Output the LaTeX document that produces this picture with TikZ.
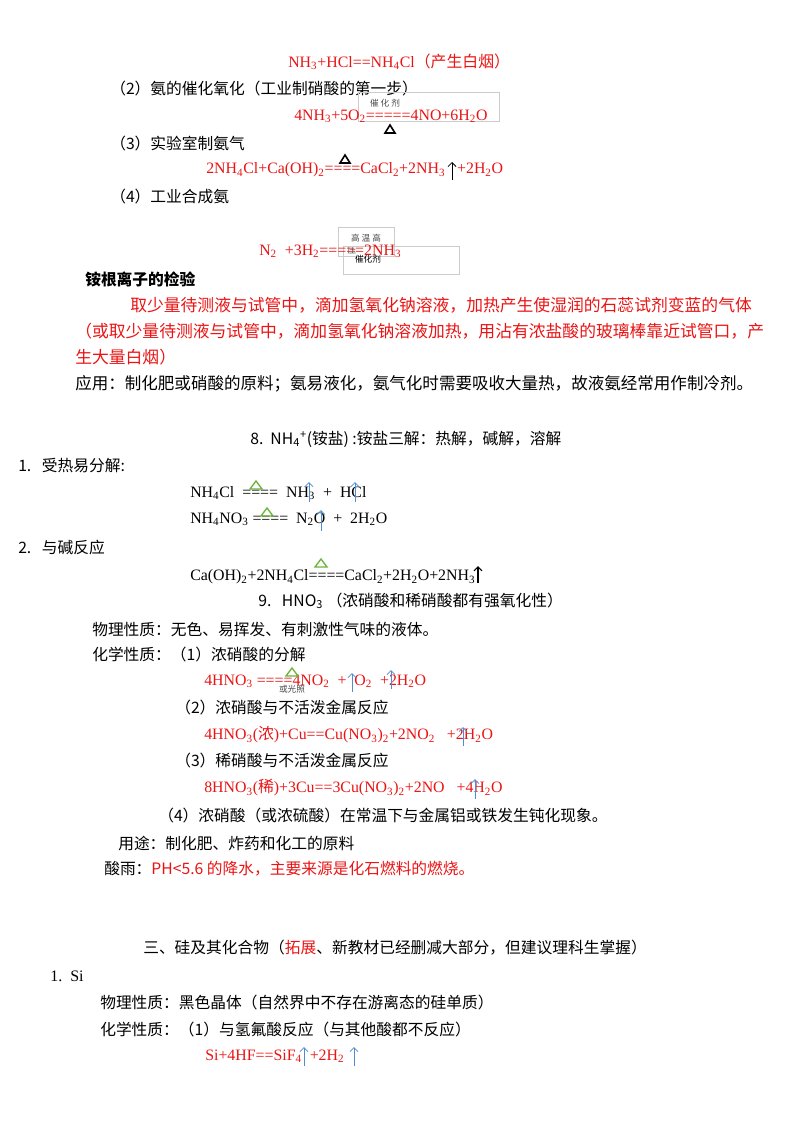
\documentclass[tikz,border=0pt]{standalone}
\usepackage{fontspec}
\usetikzlibrary{arrows.meta}
\setmainfont{Liberation Serif}
\newfontfamily\cjk{Noto Sans CJK SC}
\newcommand{\sbt}[1]{\textsubscript{#1}}
\newcommand{\spt}[1]{\textsuperscript{#1}}
\definecolor{rd}{RGB}{235,20,20}
\definecolor{ar}{RGB}{80,140,210}
\definecolor{gr}{RGB}{110,180,60}
\begin{document}
\begin{tikzpicture}[x=0.75pt,y=-0.75pt,
 t/.style={anchor=west,inner sep=0,font=\cjk\fontsize{11.8}{14}\selectfont},
 tr/.style={t,text=rd,font=\cjk\fontsize{12.6}{14}\selectfont},
 f/.style={anchor=west,inner sep=0,font=\fontsize{11.9}{14}\selectfont},
 fr/.style={f,text=rd},
 sm/.style={inner sep=0,font=\cjk\fontsize{6.5}{8}\selectfont,text=black!70},
 bx/.style={draw=black!20,line width=0.4pt},
 up/.style={draw=ar,line width=0.6pt,-{Straight Barb[length=3pt]}},
 tri/.style={draw=black,line width=1.2pt},
 gtri/.style={draw=gr,line width=1pt}]
\useasboundingbox[fill=white] (0,0) rectangle (800,1132);
\node[fr] (l1) at (288,62) {NH\sbt{3}+HCl==NH\sbt{4}Cl{\cjk（产生白烟）}};
\node[t] (l2) at (110,89) {（2）氨的催化氧化（工业制硝酸的第一步）};
\draw[bx] (358,92) rectangle (499,121);
\node[sm] (c1) at (385,103) {催 化 剂};
\node[fr] (l3) at (294,116) {4NH\sbt{3}+5O\sbt{2}=====4NO+6H\sbt{2}O};
\draw[tri] (385,133) -- (390,125) -- (395,133) -- cycle;
\node[t] (l4) at (110,144) {（3）实验室制氨气};
\draw[tri] (340,163) -- (345,155) -- (350,163) -- cycle;
\node[fr] (l5) at (206,170) {2NH\sbt{4}Cl+Ca(OH)\sbt{2}====CaCl\sbt{2}+2NH\sbt{3}\ \ \ +2H\sbt{2}O};
\draw[black,line width=0.6pt,-{Straight Barb[length=3pt]}] (452,180) -- (452,162);
\node[t] (l6) at (110,197) {（4）工业合成氨};
\draw[bx] (338,227) rectangle (394,256);
\node[sm] (c2) at (366,238) {高 温 高};
\node[sm] (c3) at (352,250) {压};
\draw[bx] (343,246) rectangle (459,274);
\node[fr] (l7) at (259,251) {N\sbt{2} \ +3H\sbt{2}=====2NH\sbt{3}};
\node[sm,text=black] (c4) at (368,259) {催化剂};
\node[t,font=\cjk\bfseries\fontsize{11.8}{14}\selectfont] (l8) at (85,279) {铵根离子的检验};
\node[tr] (l9) at (130,305) {取少量待测液与试管中，滴加氢氧化钠溶液，加热产生使湿润的石蕊试剂变蓝的气体};
\node[tr] (l10) at (75,331) {（或取少量待测液与试管中，滴加氢氧化钠溶液加热，用沾有浓盐酸的玻璃棒靠近试管口，产};
\node[tr] (l11) at (75,357) {生大量白烟）};
\node[t,font=\cjk\fontsize{12.4}{14}\selectfont] (l12) at (75,384) {应用：制化肥或硝酸的原料；氨易液化，氨气化时需要吸收大量热，故液氨经常用作制冷剂。};
\node[t] (l13) at (250,439) {8.\ \ NH\sbt{4}\spt{+}(铵盐) :铵盐三解：热解，碱解，溶解};
\node[t] (l14) at (18,466) {1.\ \ \ 受热易分解:};
\node[f] (l15) at (190,493) {NH\sbt{4}Cl \ ==== \ NH\sbt{3} \ + \ HCl};
\draw[gtri] (250,489) -- (256,481) -- (262,489) -- cycle;
\draw[up] (309,502) -- (309,482);
\draw[up] (355,502) -- (355,482);
\node[f] (l16) at (190,519) {NH\sbt{4}NO\sbt{3} ==== \ N\sbt{2}O \ + \ 2H\sbt{2}O};
\draw[gtri] (261,516) -- (267,508) -- (273,516) -- cycle;
\draw[up] (321,531) -- (321,510);
\node[t] (l17) at (18,548) {2.\ \ \ 与碱反应};
\node[f] (l18) at (190,577) {Ca(OH)\sbt{2}+2NH\sbt{4}Cl====CaCl\sbt{2}+2H\sbt{2}O+2NH\sbt{3}};
\draw[gtri] (315,567) -- (321,559) -- (327,567) -- cycle;
\draw[black,line width=0.8pt,-{Straight Barb[length=3pt]}] (478,583) -- (478,566);
\node[t] (l19) at (258,601) {9.\ \ \ HNO\sbt{3} （浓硝酸和稀硝酸都有强氧化性）};
\node[t] (l20) at (92,630) {物理性质：无色、易挥发、有刺激性气味的液体。};
\node[t] (l21) at (92,655) {化学性质：（1）浓硝酸的分解};
\node[fr] (l22) at (204,681) {4HNO\sbt{3} ====4NO\sbt{2} \ + \ O\sbt{2} \ +2H\sbt{2}O};
\draw[gtri] (286,676) -- (292,668) -- (298,676) -- cycle;
\node[sm] (c5) at (292,689) {或光照};
\draw[up] (352,692) -- (352,673);
\draw[up] (391,689) -- (391,670);
\node[t] (l23) at (175,708) {（2）浓硝酸与不活泼金属反应};
\node[fr] (l24) at (204,735) {4HNO\sbt{3}({\cjk 浓})+Cu==Cu(NO\sbt{3})\sbt{2}+2NO\sbt{2} \ \ +2H\sbt{2}O};
\draw[up] (463,746) -- (463,727);
\node[t] (l25) at (175,761) {（3）稀硝酸与不活泼金属反应};
\node[fr] (l26) at (204,788) {8HNO\sbt{3}({\cjk 稀})+3Cu==3Cu(NO\sbt{3})\sbt{2}+2NO \ \ +4H\sbt{2}O};
\draw[up] (475,799) -- (475,779);
\node[t] (l27) at (158,816) {（4）浓硝酸（或浓硫酸）在常温下与金属铝或铁发生钝化现象。};
\node[t] (l28) at (118,843) {用途：制化肥、炸药和化工的原料};
\node[t] (l29) at (104,869) {酸雨：\textcolor{rd}{PH<5.6 的降水，主要来源是化石燃料的燃烧。}};
\node[t] (l30) at (143,948) {三、硅及其化合物（\textcolor{rd}{拓展}、新教材已经删减大部分，但建议理科生掌握）};
\node[f,font=\fontsize{12}{14}\selectfont] (l31) at (50,976) {1.\ \ Si};
\node[t] (l32) at (100,1003) {物理性质：黑色晶体（自然界中不存在游离态的硅单质）};
\node[t] (l33) at (100,1030) {化学性质：（1）与氢氟酸反应（与其他酸都不反应）};
\node[fr] (l34) at (205,1056) {Si+4HF==SiF\sbt{4} \ +2H\sbt{2}};
\draw[up] (304,1066) -- (304,1047);
\draw[up] (354,1066) -- (354,1047);
\end{tikzpicture}
\end{document}
